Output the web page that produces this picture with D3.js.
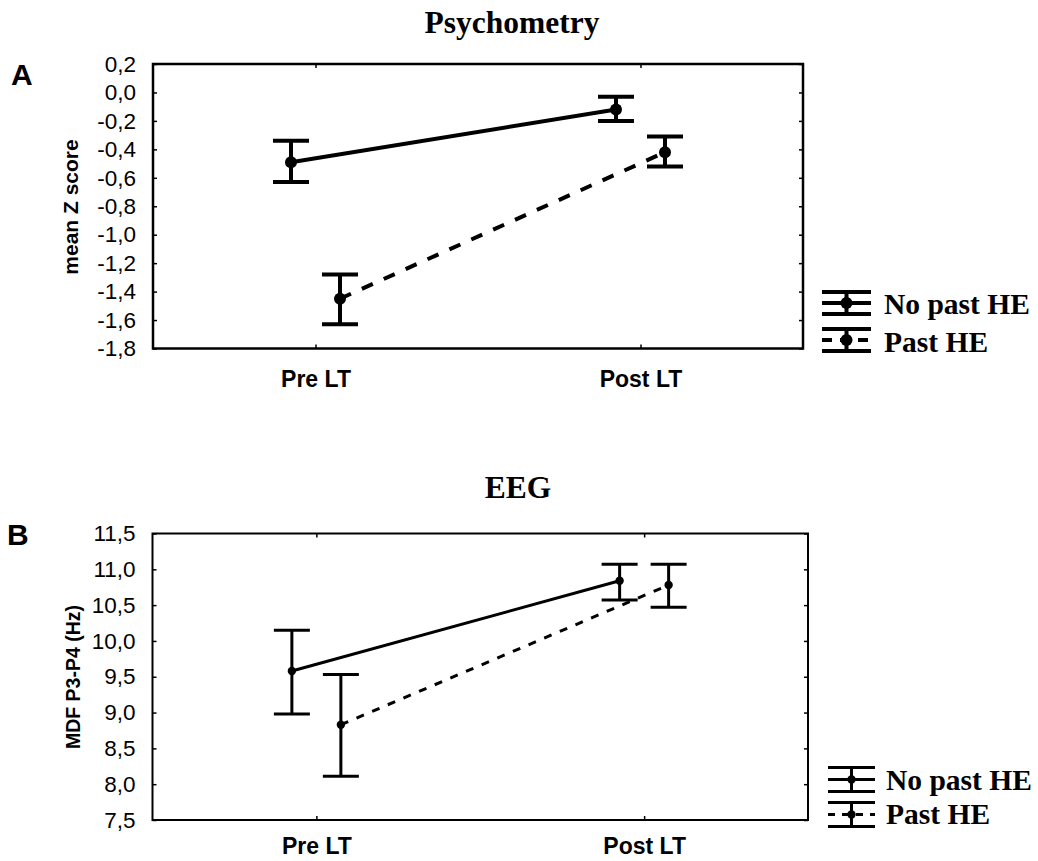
<!DOCTYPE html>
<html>
<head>
<meta charset="utf-8">
<script src="https://cdn.jsdelivr.net/npm/d3@7"></script>
<style>
  html, body { margin: 0; padding: 0; background: #fff; }
  svg { display: block; }
</style>
</head>
<body>
<svg id="chart" width="1038" height="861"></svg>
<script>
// ---- data ----
const categories = ["Pre LT", "Post LT"];
const series = ["No past HE", "Past HE"];

// Panel A: psychometry, mean Z score with error bars
const psychNoPastMean = [-0.49, -0.12];
const psychNoPastLow  = [-0.63, -0.20];
const psychNoPastHigh = [-0.34, -0.03];
const psychPastMean   = [-1.45, -0.42];
const psychPastLow    = [-1.63, -0.52];
const psychPastHigh   = [-1.28, -0.31];
const psychTicks = [0.2, 0.0, -0.2, -0.4, -0.6, -0.8, -1.0, -1.2, -1.4, -1.6, -1.8];

// Panel B: EEG, MDF P3-P4 (Hz) with error bars
const eegNoPastMean = [9.58, 10.84];
const eegNoPastLow  = [8.98, 10.57];
const eegNoPastHigh = [10.15, 11.07];
const eegPastMean   = [8.83, 10.78];
const eegPastLow    = [8.11, 10.47];
const eegPastHigh   = [9.53, 11.07];
const eegTicks = [11.5, 11.0, 10.5, 10.0, 9.5, 9.0, 8.5, 8.0, 7.5];

const svg = d3.select("#chart");
const fmt = d => d3.format(".1f")(d).replace(".", ",").replace("−", "-");

function panel(cfg) {
  const g = svg.append("g");
  const x = d3.scalePoint().domain(categories).range([cfg.left, cfg.right]).padding(0.5);
  const off = d3.scalePoint().domain(series).range([-cfg.offset, cfg.offset]);
  const y = d3.scaleLinear().domain([cfg.ticks[cfg.ticks.length - 1], cfg.ticks[0]])
    .range([cfg.bottom, cfg.top]);

  const sets = [
    { name: series[0], mean: cfg.data[0].mean, lo: cfg.data[0].lo, hi: cfg.data[0].hi, dash: null },
    { name: series[1], mean: cfg.data[1].mean, lo: cfg.data[1].lo, hi: cfg.data[1].hi, dash: cfg.dash }
  ];

  // frame
  g.append("rect")
    .attr("x", cfg.left).attr("y", cfg.top)
    .attr("width", cfg.right - cfg.left).attr("height", cfg.bottom - cfg.top)
    .attr("fill", "none").attr("stroke", "#000").attr("stroke-width", cfg.frameW);

  // axes with inward ticks
  const yAxisL = d3.axisLeft(y).tickValues(cfg.ticks).tickSizeInner(-4).tickSizeOuter(0)
    .tickPadding(17).tickFormat(fmt);
  const yAxisR = d3.axisRight(y).tickValues(cfg.ticks).tickSizeInner(-4).tickSizeOuter(0)
    .tickFormat("");
  const xAxisB = d3.axisBottom(x).tickSizeInner(-4).tickSizeOuter(0).tickPadding(cfg.xPad);
  const xAxisT = d3.axisTop(x).tickSizeInner(-4).tickSizeOuter(0).tickFormat("");

  const styleAxis = sel => {
    sel.select(".domain").remove();
    sel.selectAll(".tick line").attr("stroke", "#000").attr("stroke-width", 1.5);
  };
  g.append("g").attr("transform", `translate(${cfg.left},0)`).call(yAxisL).call(styleAxis)
    .selectAll("text").attr("font-family", "Liberation Sans, Arial, sans-serif")
    .attr("font-size", 22.5).attr("fill", "#000");
  g.append("g").attr("transform", `translate(${cfg.right},0)`).call(yAxisR).call(styleAxis);
  g.append("g").attr("transform", `translate(0,${cfg.bottom})`).call(xAxisB).call(styleAxis)
    .selectAll("text").attr("font-family", "Liberation Sans, Arial, sans-serif")
    .attr("font-weight", "bold").attr("font-size", 23).attr("fill", "#000");
  g.append("g").attr("transform", `translate(0,${cfg.top})`).call(xAxisT).call(styleAxis);

  // connecting lines
  const line = d3.line().x(d => d[0]).y(d => d[1]);
  sets.forEach(s => {
    const pts = categories.map((c, i) => [x(c) + off(s.name), y(s.mean[i])]);
    g.append("path").attr("d", line(pts)).attr("fill", "none")
      .attr("stroke", "#000").attr("stroke-width", cfg.lineW)
      .attr("stroke-dasharray", s.dash);
  });

  // error bars and means
  sets.forEach(s => {
    categories.forEach((c, i) => {
      const cx = x(c) + off(s.name);
      g.append("line").attr("x1", cx).attr("x2", cx)
        .attr("y1", y(s.lo[i])).attr("y2", y(s.hi[i]))
        .attr("stroke", "#000").attr("stroke-width", cfg.lineW);
      [s.lo[i], s.hi[i]].forEach(v => {
        g.append("line").attr("x1", cx - cfg.cap).attr("x2", cx + cfg.cap)
          .attr("y1", y(v)).attr("y2", y(v))
          .attr("stroke", "#000").attr("stroke-width", cfg.lineW);
      });
      g.append("circle").attr("cx", cx).attr("cy", y(s.mean[i])).attr("r", cfg.dotR).attr("fill", "#000");
    });
  });

  // title
  g.append("text").attr("x", cfg.titleX).attr("y", cfg.titleY).attr("text-anchor", "middle")
    .attr("font-family", "Liberation Serif, Times New Roman, serif").attr("font-weight", "bold")
    .attr("font-size", 31.5).text(cfg.title);

  // panel letter
  g.append("text").attr("x", cfg.letterX).attr("y", cfg.letterY)
    .attr("font-family", "Liberation Sans, Arial, sans-serif").attr("font-weight", "bold")
    .attr("font-size", 30).text(cfg.letter);

  // y axis title
  g.append("text").attr("transform", `translate(${cfg.yTitleX},${cfg.yTitleY}) rotate(-90)`)
    .attr("text-anchor", "middle")
    .attr("font-family", "Liberation Sans, Arial, sans-serif").attr("font-weight", "bold")
    .attr("font-size", cfg.yTitleSize).text(cfg.yTitle);

  // legend
  const L = cfg.legend;
  sets.forEach((s, k) => {
    const cy = L.cy[k];
    const lg = g.append("g");
    lg.append("line").attr("x1", L.x0).attr("x2", L.x1).attr("y1", cy).attr("y2", cy)
      .attr("stroke", "#000").attr("stroke-width", cfg.lineW)
      .attr("stroke-dasharray", s.dash ? L.dash : null);
    [cy - L.half, cy + L.half].forEach(yy => {
      lg.append("line").attr("x1", L.x0).attr("x2", L.x1).attr("y1", yy).attr("y2", yy)
        .attr("stroke", "#000").attr("stroke-width", cfg.lineW);
    });
    const mx = (L.x0 + L.x1) / 2;
    lg.append("line").attr("x1", mx).attr("x2", mx).attr("y1", cy - L.half).attr("y2", cy + L.half)
      .attr("stroke", "#000").attr("stroke-width", cfg.lineW);
    lg.append("circle").attr("cx", mx).attr("cy", cy).attr("r", cfg.dotR).attr("fill", "#000");
    lg.append("text").attr("x", L.tx).attr("y", L.ty[k])
      .attr("font-family", "Liberation Serif, Times New Roman, serif").attr("font-weight", "bold")
      .attr("font-size", 29.5).text(s.name);
  });
}

panel({
  left: 153, right: 803, top: 64, bottom: 348.5,
  offset: 24.5, ticks: psychTicks, frameW: 2.5, lineW: 4, cap: 18, dotR: 6,
  dash: "12,12", xPad: 22,
  data: [
    { mean: psychNoPastMean, lo: psychNoPastLow, hi: psychNoPastHigh },
    { mean: psychPastMean, lo: psychPastLow, hi: psychPastHigh }
  ],
  title: "Psychometry", titleX: 512, titleY: 33,
  letter: "A", letterX: 11, letterY: 85,
  yTitle: "mean Z score", yTitleX: 78, yTitleY: 207, yTitleSize: 21,
  legend: { x0: 822, x1: 871, cy: [303, 340], half: 11, dash: "10,8", tx: 884, ty: [314, 352] }
});

panel({
  left: 152.5, right: 808, top: 533.5, bottom: 820,
  offset: 24.5, ticks: eegTicks, frameW: 2, lineW: 3, cap: 18, dotR: 4.2,
  dash: "8,9", xPad: 18,
  data: [
    { mean: eegNoPastMean, lo: eegNoPastLow, hi: eegNoPastHigh },
    { mean: eegPastMean, lo: eegPastLow, hi: eegPastHigh }
  ],
  title: "EEG", titleX: 518, titleY: 498,
  letter: "B", letterX: 7, letterY: 545,
  yTitle: "MDF P3-P4 (Hz)", yTitleX: 80, yTitleY: 677, yTitleSize: 19.5,
  legend: { x0: 828, x1: 875, cy: [779.5, 814.5], half: 12, dash: "7,7", tx: 886, ty: [790, 824] }
});
</script>
</body>
</html>
